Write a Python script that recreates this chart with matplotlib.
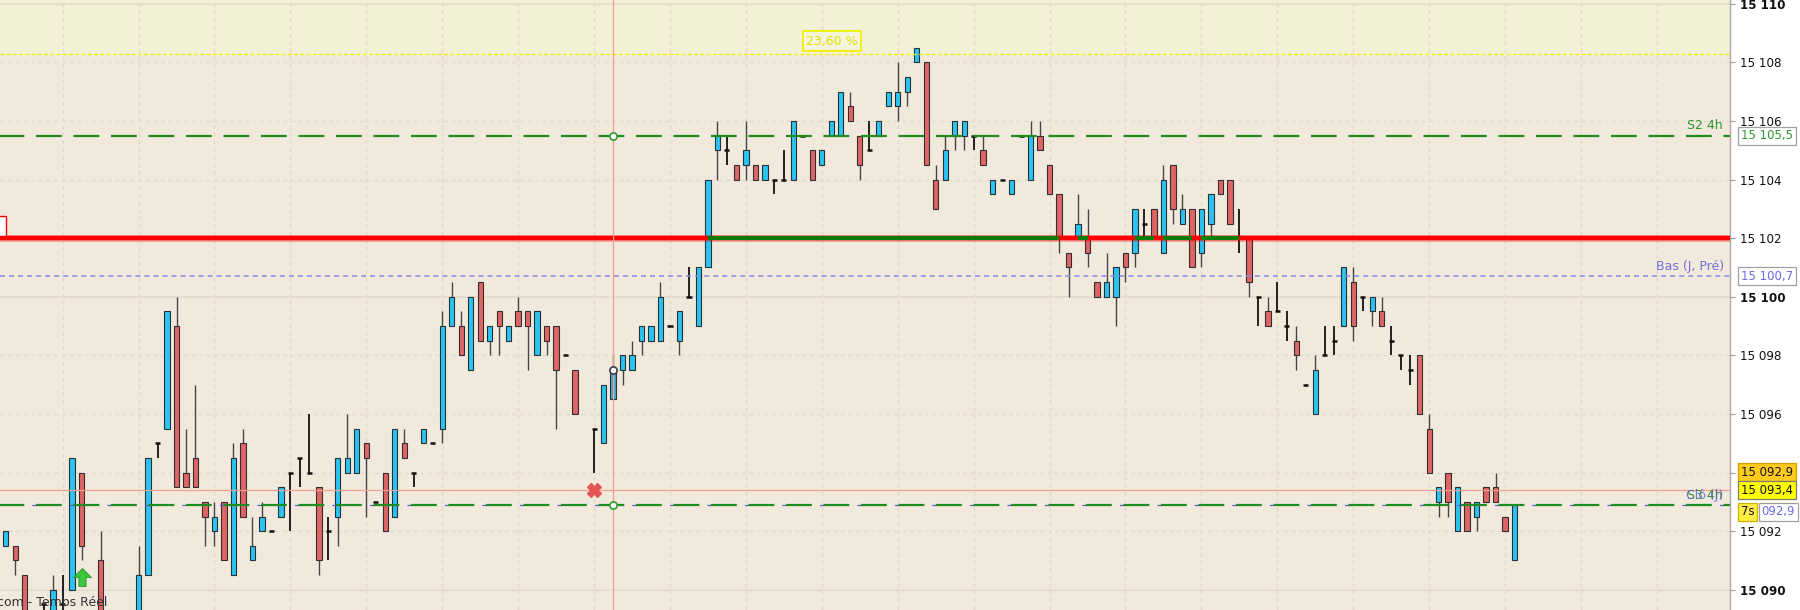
import numpy as np
import matplotlib.pyplot as plt
from matplotlib.collections import LineCollection
from matplotlib.patches import Rectangle

plt.rcParams['lines.scale_dashes'] = False
plt.rcParams['font.family'] = ['DejaVu Sans']

nan = np.nan

# 1 minute bars
opens = [
    15091.5, 15091.5, 15090.5, 15089, 15089.5, 15089, 15089.5, 15090, 15094, 15089,
    15091, 15088.5, 15089, 15088.5, 15089, 15090.5, 15095, 15095.5, 15099, 15094,
    15094.5, 15093, 15092, 15093, 15090.5, 15095, 15091, 15092, 15092, 15092.5,
    15094, 15094.5, 15094, 15093.5, 15092, 15092.5, 15094, 15094, 15095, 15093,
    15094, 15092.5, 15095, 15094, 15095, 15095, 15095.5, 15099, 15099, 15097.5,
    15100.5, 15098.5, 15099.5, 15098.5, 15099.5, 15099.5, 15098, 15099, 15099, 15098,
    15097.5, nan, 15095.5, 15095, 15096.5, 15097.5, 15097.5, 15098.5, 15098.5, 15098.5,
    15099, 15098.5, 15100, 15099, 15101, 15105, 15105, 15104.5, 15104.5, 15104.5,
    15104, 15104, 15104, 15104, 15105.5, 15105, 15104.5, 15105.5, 15105.5, 15106.5,
    15105.5, 15105, 15105.5, 15106.5, 15106.5, 15107, 15108, 15108, 15104, 15104,
    15105.5, 15105.5, 15105.5, 15105, 15103.5, 15104, 15103.5, 15105.5, 15104, 15105.5,
    15104.5, 15103.5, 15101.5, 15102, 15102, 15100.5, 15100, 15100, 15101.5, 15101.5,
    15102.5, 15103, 15101.5, 15104.5, 15102.5, 15103, 15101.5, 15102.5, 15104, 15104,
    15102, 15102, 15100, 15099.5, 15099.5, 15099, 15098.5, 15097, 15096, 15098,
    15098.5, 15099, 15100.5, 15100, 15099.5, 15099.5, 15098.5, 15098, 15097.5, 15098,
    15095.5, 15093, 15094, 15092, 15093, 15092.5, 15093.5, 15093.5, 15092.5, 15091,
]
highs = [
    15092, 15091.5, 15090.5, 15089, 15089.5, 15090.5, 15090.5, 15094.5, 15094, 15089,
    15092, 15089, 15089, 15089, 15091.5, 15094.5, 15095, 15099.5, 15100, 15095.5,
    15097, 15093, 15093, 15093, 15095, 15095.5, 15092.5, 15093, 15092, 15093.5,
    15094, 15094.5, 15096, 15093.5, 15092.5, 15094.5, 15096, 15095.5, 15095, 15093,
    15094, 15095.5, 15095.5, 15094, 15095.5, 15095, 15099.5, 15100.5, 15099.5, 15100,
    15100.5, 15099, 15099.5, 15099, 15100, 15099.5, 15099.5, 15099, 15099, 15098,
    15097.5, nan, 15095.5, 15097, 15098, 15098, 15098.5, 15099, 15099, 15100.5,
    15099, 15099.5, 15101, 15101, 15104, 15106, 15105.5, 15104.5, 15106, 15104.5,
    15104.5, 15104, 15105, 15106, 15105.5, 15105, 15105, 15106, 15107, 15107,
    15105.5, 15106, 15106, 15107, 15108, 15107.5, 15108.5, 15108, 15104.5, 15105.5,
    15106, 15106, 15105.5, 15105.5, 15104, 15104, 15104, 15105.5, 15106, 15106,
    15104.5, 15103.5, 15101.5, 15103.5, 15103, 15100.5, 15101.5, 15101, 15101.5, 15103,
    15103, 15103, 15104.5, 15104.5, 15103.5, 15103, 15103, 15103.5, 15104, 15104,
    15103, 15102, 15100, 15100, 15100.5, 15099.5, 15099, 15097, 15098, 15099,
    15099, 15101, 15101, 15100, 15100, 15100, 15099, 15098, 15098, 15098,
    15096, 15093.5, 15094, 15093.5, 15093, 15093, 15093.5, 15094, 15092.5, 15092.9,
]
lows = [
    15091.5, 15090.5, 15088.5, 15088, 15089, 15088.5, 15089, 15090, 15091, 15088,
    15088.5, 15088, 15088, 15088, 15088.5, 15090.5, 15094.5, 15095.5, 15093.5, 15093.5,
    15093.5, 15091.5, 15091.5, 15091, 15090.5, 15092.5, 15091, 15092, 15092, 15092.5,
    15092, 15093.5, 15094, 15090.5, 15091, 15091.5, 15094, 15094, 15092.5, 15093,
    15092, 15092.5, 15094.5, 15093.5, 15095, 15095, 15095, 15099, 15098, 15097.5,
    15098.5, 15098, 15098, 15098.5, 15099, 15097.5, 15098, 15098, 15095.5, 15098,
    15096, nan, 15094, 15095, 15096.5, 15097, 15097.5, 15098, 15098.5, 15098.5,
    15099, 15098, 15100, 15099, 15101, 15104, 15104.5, 15104, 15104, 15104,
    15104, 15103.5, 15104, 15104, 15105.5, 15104, 15104.5, 15105.5, 15105.5, 15106,
    15104, 15105, 15105.5, 15106.5, 15106, 15106.5, 15108, 15104.5, 15103, 15104,
    15105, 15105, 15105, 15104.5, 15103.5, 15104, 15103.5, 15105.5, 15104, 15105,
    15103.5, 15101.5, 15100, 15102, 15101, 15100, 15100, 15099, 15100.5, 15101,
    15102, 15102, 15101.5, 15102.5, 15102.5, 15101, 15101, 15102, 15103.5, 15102.5,
    15101.5, 15100, 15099, 15099, 15099.5, 15098.5, 15097.5, 15097, 15096, 15098,
    15098, 15099, 15098.5, 15099.5, 15099, 15099, 15098, 15097.5, 15097, 15096,
    15094, 15092.5, 15092.5, 15092, 15092, 15092, 15093, 15093, 15092, 15091,
]
closes = [
    15092, 15091, 15089, 15088.5, 15089.5, 15090, 15089.5, 15094.5, 15091.5, 15088.5,
    15089, 15089, 15088.5, 15089, 15090.5, 15094.5, 15095, 15099.5, 15093.5, 15093.5,
    15093.5, 15092.5, 15092.5, 15091, 15094.5, 15092.5, 15091.5, 15092.5, 15092, 15093.5,
    15094, 15094.5, 15094, 15091, 15092, 15094.5, 15094.5, 15095.5, 15094.5, 15093,
    15092, 15095.5, 15094.5, 15094, 15095.5, 15095, 15099, 15100, 15098, 15100,
    15098.5, 15099, 15099, 15099, 15099, 15099, 15099.5, 15098.5, 15097.5, 15098,
    15096, nan, 15095.5, 15097, 15097.5, 15098, 15098, 15099, 15099, 15100,
    15099, 15099.5, 15100, 15101, 15104, 15105.5, 15105, 15104, 15105, 15104,
    15104.5, 15104, 15104, 15106, 15105.5, 15104, 15105, 15106, 15107, 15106,
    15104.5, 15105, 15106, 15107, 15107, 15107.5, 15108.5, 15104.5, 15103, 15105,
    15106, 15106, 15105.5, 15104.5, 15104, 15104, 15104, 15105.5, 15105.5, 15105,
    15103.5, 15102, 15101, 15102.5, 15101.5, 15100, 15100.5, 15101, 15101, 15103,
    15102.5, 15102, 15104, 15103, 15103, 15101, 15103, 15103.5, 15103.5, 15102.5,
    15102, 15100.5, 15100, 15099, 15099.5, 15099, 15098, 15097, 15097.5, 15098,
    15098.5, 15101, 15099, 15100, 15100, 15099, 15098.5, 15098, 15097.5, 15096,
    15094, 15093.5, 15093, 15093.5, 15092, 15093, 15093, 15093, 15092, 15092.9,
]

pivot_level = 15102.0
s2_level = 15105.5
s3_level = 15092.9
prev_low = 15100.7
fibo_level = 15108.3
cursor_price = 15093.4
cursor_bar = 64
last_price = 15092.9
signal_sell = (62, 15093.4)
signal_buy = (8, 15090.45)

y_ticks = [15090, 15092, 15094, 15096, 15098, 15100, 15102, 15104, 15106, 15108, 15110]
bold_ticks = [15090, 15100, 15110]
hidden_ticks = [15094]   # sits under the price boxes

blue = '#2BC4F2'
red = '#E06464'

fig = plt.figure(figsize=(18, 6.1), dpi=100, facecolor='white')
ax = fig.add_axes([0, 0, 1730 / 1800, 1])
ax.set_facecolor('#F1E9DC')
ax.set_xlim(-0.6, 181.7)
ax.set_ylim(15089.31, 15110.13)

ax.axhspan(fibo_level, 15111, color='#F2F1D6', zorder=0)

# grid
ax.set_xticks(np.arange(6, 182, 8))
ax.set_yticks(y_ticks)
ax.grid(True, axis='x', color='#E3D9C8', lw=1, ls=(0, (3, 2.5)), zorder=0.5)
ax.grid(True, axis='y', color='#E4DACA', lw=1, ls=(0, (3, 2.5)), zorder=0.5)
for v in bold_ticks:
    ax.axhline(v, color='#E6DDCD', lw=1.3, zorder=0.6)

o = np.array(opens)
h = np.array(highs)
l = np.array(lows)
c = np.array(closes)
x = np.arange(len(o))
ok = ~np.isnan(c)
up = ok & (c > o)
down = ok & (c < o)
doji = ok & (c == o)

ax.vlines(x[ok & ~doji], l[ok & ~doji], h[ok & ~doji], color='#454545', lw=1, zorder=2)
ax.vlines(x[doji], l[doji], h[doji], color='#111111', lw=1.3, zorder=2)
up_colors = ['#45A8CF' if i == cursor_bar else blue for i in x[up]]
ax.bar(x[up], (c - o)[up], bottom=o[up], width=0.56, color=up_colors,
       edgecolor='#263238', lw=0.8, zorder=3)
ax.bar(x[down], (o - c)[down], bottom=c[down], width=0.56, color=red,
       edgecolor='#303030', lw=0.8, zorder=3)
ax.hlines(c[doji], x[doji] - 0.27, x[doji] + 0.27, color='#111111', lw=1.8, zorder=3)

# pivot line, green where the bar closed above it
ax.axhline(pivot_level, color='#FF0000', lw=4.8, alpha=0.35, zorder=4)
ax.axhline(pivot_level, color='#FF0000', lw=3.2, zorder=4)
segs = [[(i, pivot_level), (i + 1, pivot_level)] for i in x if ok[i] and c[i] > pivot_level]
ax.add_collection(LineCollection(segs, colors='#0A7D0A', linewidths=3.0, zorder=4.1))

ax.axhline(s3_level, color='#5A5AE0', lw=0.9, ls=(4, (3, 24)), zorder=4)
ax.axhline(s2_level, color='#1E8C1E', lw=1.6, ls=(1.1, (18.6, 8.4)), zorder=4.2)
ax.axhline(s3_level, color='#1E8C1E', lw=1.6, ls=(1.1, (18.6, 8.4)), zorder=4.2)
ax.axhline(prev_low, color='#8A8AE6', lw=1.1, ls=(0, (3.6, 2.9)), zorder=4.2)
ax.axhline(fibo_level, color='#F0EC10', lw=1, ls=(0, (2.6, 1.9)), zorder=4.2)

# crosshair
ax.axvline(cursor_bar, color='#F2A090', lw=0.9, zorder=4.5)
ax.axhline(cursor_price, color='#F2A090', lw=0.9, zorder=4.5)
ax.plot([cursor_bar, cursor_bar], [s2_level, s3_level], ls='none', marker='o', ms=5.2,
        mfc='white', mec='#2E9E2E', mew=1.2, zorder=6)
ax.plot([cursor_bar], [c[cursor_bar]], ls='none', marker='o', ms=5.2,
        mfc='white', mec='#404040', mew=1.2, zorder=6)

ax.plot([signal_sell[0]], [signal_sell[1]], ls='none', marker='X', ms=10,
        color='#E45252', mec='#E45252', zorder=6)
arrow = [(0, 1), (1, 0), (0.4, 0), (0.4, -1), (-0.4, -1), (-0.4, 0), (-1, 0), (0, 1)]
ax.plot([signal_buy[0]], [signal_buy[1]], ls='none', marker=arrow, ms=13,
        color='#3CC43C', mec='#2A9A2A', mew=0.6, zorder=6)

ax.add_patch(Rectangle((-3, pivot_level + 0.08), 3, 0.68, fc='white', ec='#FF0000',
                       lw=1, zorder=5))

# line labels
ty = ax.get_yaxis_transform()
ax.text(1723 / 1730, s2_level + 0.12, 'S2 4h', transform=ty, ha='right', va='bottom',
        fontsize=9, color='#2B962B', zorder=7)
ax.text(1724 / 1730, prev_low + 0.12, 'Bas (J, Pré)', transform=ty, ha='right', va='bottom',
        fontsize=9, color='#7070DD', zorder=7)
ax.text(1723 / 1730, s3_level + 0.1, 'S3 4h', transform=ty, ha='right', va='bottom',
        fontsize=9, color='#2B962B', zorder=7)
ax.text(1723 / 1730, s3_level + 0.1, 'Clô (J)', transform=ty, ha='right', va='bottom',
        fontsize=9, color='#5A5AE0', alpha=0.8, zorder=7)
ax.text(806 / 1730, fibo_level + 0.2, '23,60 %', transform=ty,
        fontsize=9, color='#E2E000', ha='left', va='bottom', zorder=7,
        bbox=dict(boxstyle='square,pad=0.28', fc='#F4F4DC', ec='#F5F000', lw=1.3))
ax.text(-0.002, 0.006, 'com - Temps Réel', transform=ax.transAxes, fontsize=9,
        color='#333333', ha='left', va='baseline', zorder=7)

# right scale
ax.yaxis.tick_right()
ax.set_yticklabels(['' if v in hidden_ticks else f'{v:,}'.replace(',', ' ') for v in y_ticks])
for lab, v in zip(ax.get_yticklabels(), y_ticks):
    if v in bold_ticks:
        lab.set_fontweight('bold')
ax.tick_params(axis='y', direction='out', length=3.6, width=0.8, color='#9A9A9A',
               pad=3.4, labelsize=8.6, labelcolor='#111111')
ax.tick_params(axis='x', length=0, labelbottom=False)
for side in ['left', 'top', 'bottom']:
    ax.spines[side].set_visible(False)
ax.spines['right'].set_color('#A8A8A8')
ax.spines['right'].set_linewidth(1)

lx = 1741 / 1730
box = dict(boxstyle='square,pad=0.22', lw=0.9)
ax.text(lx, s2_level, '15 105,5', transform=ty, va='center', fontsize=8.4, color='#2B962B',
        clip_on=False, zorder=8, bbox=dict(box, fc='white', ec='#A0A0A0'))
ax.text(lx, prev_low, '15 100,7', transform=ty, va='center', fontsize=8.4, color='#6A6AE0',
        clip_on=False, zorder=8, bbox=dict(box, fc='white', ec='#A0A0A0'))
ax.text(lx, 15094.02, '15 092,9', transform=ty, va='center', fontsize=8.4, color='#111111',
        clip_on=False, zorder=8, bbox=dict(box, fc='#FFCA1C', ec='#D4A200'))
ax.text(lx, cursor_price, '15 093,4', transform=ty, va='center', fontsize=8.4, color='#111111',
        clip_on=False, zorder=9, bbox=dict(box, fc='#FFFF00', ec='#7A7A7A'))
ax.text(1761.5 / 1730, 15092.66, '092,9', transform=ty, va='center', fontsize=8.4,
        color='#6A6AE0', clip_on=False, zorder=8,
        bbox=dict(boxstyle='square,pad=0.22', fc='white', ec='#A0A0A0', lw=0.9))
ax.text(lx, 15092.66, '7s', transform=ty, va='center', fontsize=8.4, color='#111111',
        clip_on=False, zorder=9, bbox=dict(box, fc='#FFEE44', ec='#C8B400'))

fig.savefig('out.png', dpi=100, facecolor='white')
